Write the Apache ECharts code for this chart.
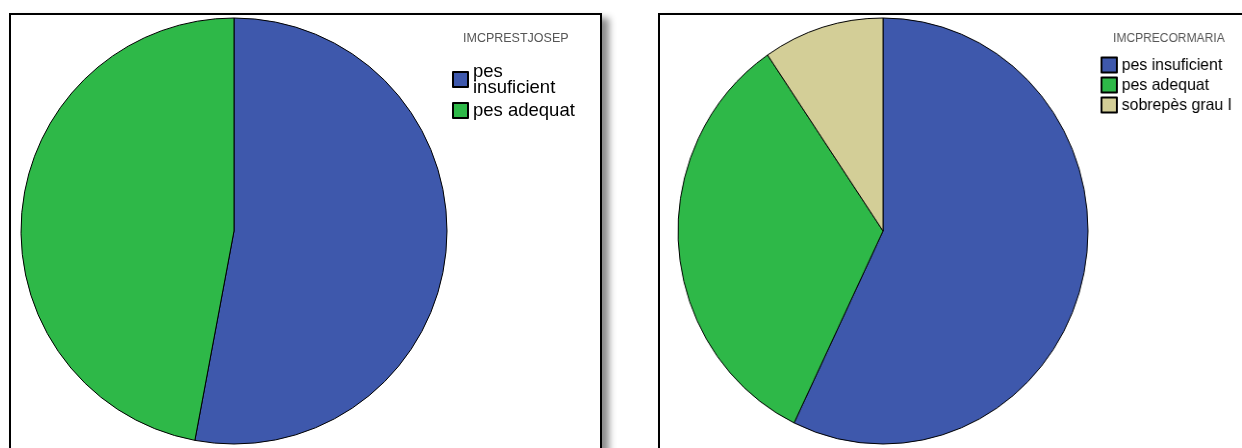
<!DOCTYPE html>
<html>
<head>
<meta charset="utf-8">
<script src="https://cdn.jsdelivr.net/npm/echarts@6/dist/echarts.min.js"></script>
<style>
html, body { margin: 0; padding: 0; background: #fff; overflow: hidden; }
.panel {
  position: absolute;
  box-sizing: border-box;
  border: 2px solid #000;
  background: #fff;
  box-shadow: 7px 5px 7px rgba(0,0,0,0.45);
}
#leftPanel { left: 9px; top: 13px; width: 593px; height: 500px; }
#rightPanel { left: 658px; top: 13px; width: 700px; height: 500px; }
#chartA { position: absolute; left: 0; top: 0; width: 1242px; height: 448px; }
/* SPSS draws the second pie a bit narrower than tall */
#chartB { position: absolute; left: 0; top: 0; width: 1400px; height: 448px;
  transform: scaleX(0.9624); transform-origin: 883px 0; }
</style>
</head>
<body>
<div class="panel" id="leftPanel"></div>
<div class="panel" id="rightPanel"></div>
<div id="chartA"></div>
<div id="chartB"></div>
<script>
// categories
var josepNames = ['pes insuficient', 'pes adequat'];
var mariaNames = ['pes insuficient', 'pes adequat', 'sobrepès grau I'];
// counts
var josepValues = [9, 8];
var mariaValues = [12, 7, 2];
var colors = ['#3E58AC', '#2EB848', '#D3CE97'];

function pieData(names, values) {
  var out = [];
  for (var i = 0; i < names.length; i++) {
    out.push({ name: names[i], value: values[i] });
  }
  return out;
}

var font = 'Liberation Sans, Arial, sans-serif';

// left pie
var chartA = echarts.init(document.getElementById('chartA'));
chartA.setOption({
  animation: false,
  color: colors,
  title: {
    text: 'IMCPRESTJOSEP',
    left: 458,
    top: 27,
    textStyle: { fontFamily: font, fontSize: 12.5, fontWeight: 'normal', color: '#555' }
  },
  legend: {
    orient: 'vertical',
    left: 447,
    top: 57,
    itemWidth: 15,
    itemHeight: 15,
    itemGap: 4,
    icon: 'rect',
    selectedMode: false,
    data: josepNames,
    formatter: function (name) {
      return name === 'pes insuficient' ? 'pes\ninsuficient' : name;
    },
    textStyle: { fontFamily: font, fontSize: 18.5, lineHeight: 16, color: '#000' }
  },
  series: [{
    type: 'pie',
    center: [234, 231],
    radius: 213,
    startAngle: 90,
    clockwise: true,
    label: { show: false },
    labelLine: { show: false },
    emphasis: { disabled: true },
    itemStyle: { borderColor: '#000', borderWidth: 1 },
    data: pieData(josepNames, josepValues)
  }]
});

// right pie (its div is squeezed horizontally, so x positions are given in unscaled units)
var chartB = echarts.init(document.getElementById('chartB'));
chartB.setOption({
  animation: false,
  color: colors,
  title: {
    text: 'IMCPRECORMARIA',
    left: 1117,
    top: 27,
    textStyle: { fontFamily: font, fontSize: 12.5, fontWeight: 'normal', color: '#555' }
  },
  legend: {
    orient: 'vertical',
    left: 1104,
    top: 50,
    itemWidth: 16,
    itemHeight: 15,
    itemGap: 0,
    icon: 'rect',
    selectedMode: false,
    data: mariaNames,
    textStyle: { fontFamily: font, fontSize: 16.5, lineHeight: 20, color: '#000' }
  },
  series: [{
    type: 'pie',
    center: [883, 231],
    radius: 213,
    startAngle: 90,
    clockwise: true,
    label: { show: false },
    labelLine: { show: false },
    emphasis: { disabled: true },
    itemStyle: { borderColor: '#000', borderWidth: 1 },
    data: pieData(mariaNames, mariaValues)
  }]
});
</script>
</body>
</html>
